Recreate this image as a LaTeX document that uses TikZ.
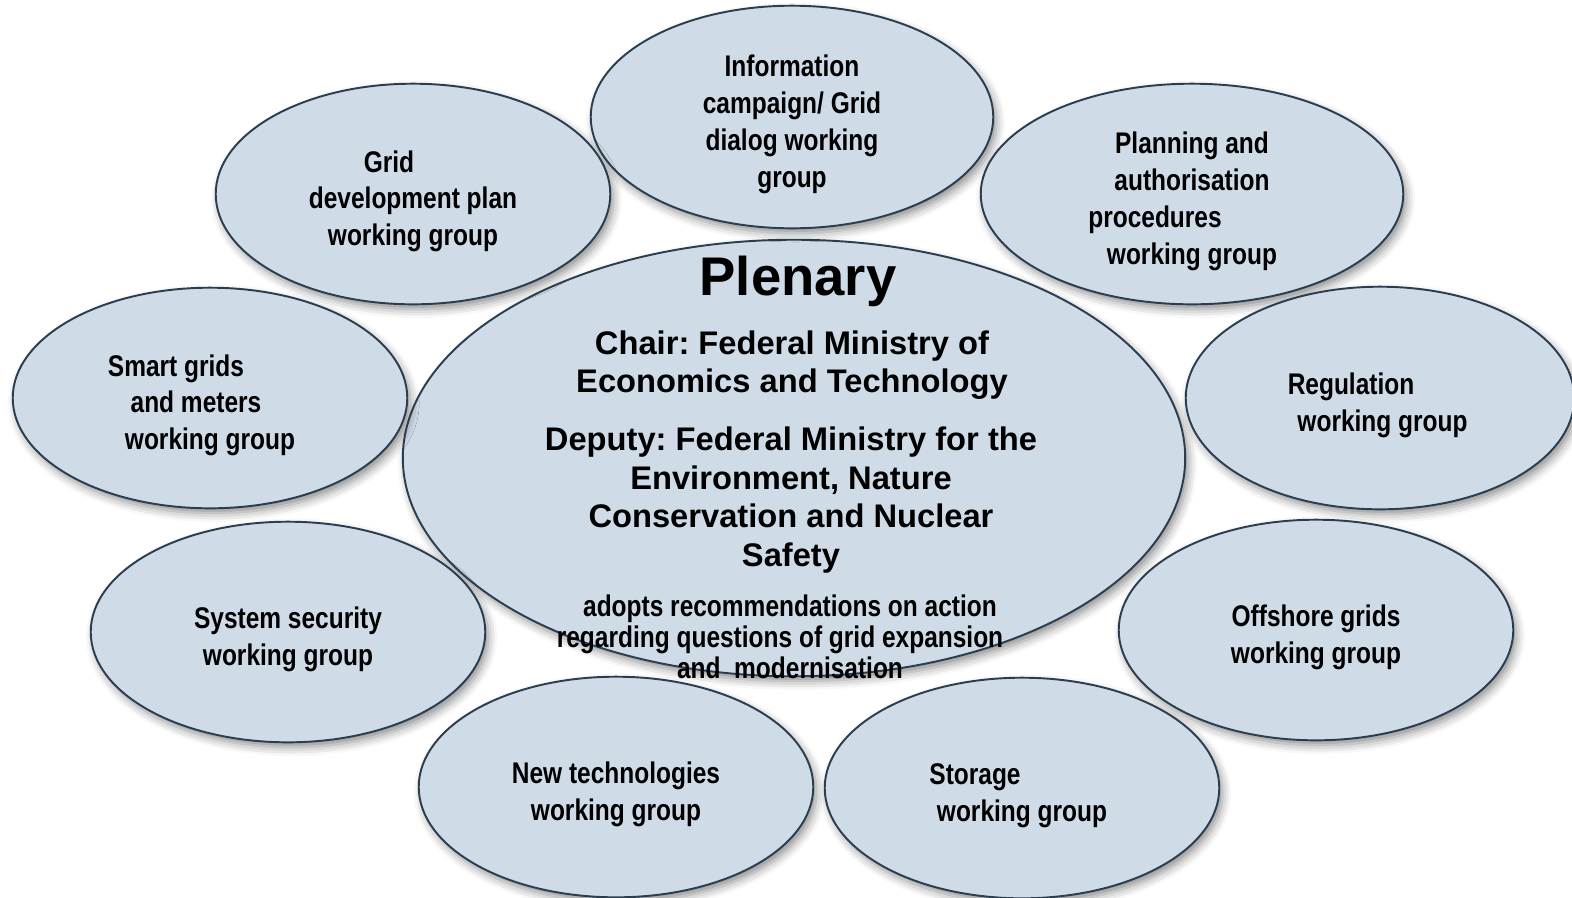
\documentclass[tikz,border=0pt]{standalone}
\usepackage{fontspec}
\setmainfont{Liberation Sans}
\newfontfamily\narrowfont[FakeStretch=0.82]{Liberation Sans}
\usetikzlibrary{shapes.geometric,shadows.blur,calc}

\definecolor{wgfill}{HTML}{CFDCE8}
\definecolor{wgline}{HTML}{2B3E50}
\frenchspacing
% extra head room on the first line drops the block a little
\newcommand\wgstrut{\rule{0pt}{17pt}}

\begin{document}
\begin{tikzpicture}[x=0.02cm,y=-0.02cm,
  radii/.style 2 args={minimum width=#1*0.04cm,minimum height=#2*0.04cm},
  wg/.style={ellipse,inner sep=0pt,fill=wgfill,
    blur shadow={shadow xshift=2pt,shadow yshift=-3pt,shadow blur radius=5pt,shadow opacity=45},
    align=center,font=\narrowfont\bfseries\fontsize{17}{21}\selectfont,
    text depth=0pt},
  rim/.style={draw=wgline,line width=1.1pt},
  plen/.style={align=center,font=\bfseries\fontsize{18.6}{22}\selectfont}]
\useasboundingbox (0,0) rectangle (1572,897);

\node[wg,radii={391}{218}] (plenary) at (794,458) {};
\node[wg,radii={201}{111}] (info) at (792,117) {\wgstrut Information\\campaign/ Grid\\dialog working\\group};
\node[wg,radii={197}{110}] (griddev) at (413,194) {\wgstrut Grid\kern0.96cm\\development plan\\working group};
\node[wg,radii={211}{110}] (planning) at (1192,194) {\wgstrut Planning and\\authorisation\\procedures\kern1.48cm\\working group};
\node[wg,radii={197}{110}] (smart) at (210,398) {\wgstrut Smart grids\kern1.36cm\\and meters\kern0.56cm\\working group};
\node[wg,radii={194}{111}] (regulation) at (1380,398) {\wgstrut Regulation\kern1.16cm\\\kern0.1cm working group};
\node[wg,radii={197}{110}] (security) at (288,632) {\wgstrut System security\\working group};
\node[wg,radii={197}{110}] (offshore) at (1316,630) {\wgstrut Offshore grids\\working group};
\node[wg,radii={197}{110}] (newtech) at (616,787) {\wgstrut New technologies\\working group};
\node[wg,radii={197}{110}] (storage) at (1022,788) {\wgstrut Storage\kern1.88cm\\working group};

% rims go on last, so where two ellipses overlap both edges stay visible
\foreach \g in {plenary,info,griddev,planning,smart,regulation,security,offshore,newtech,storage}
  \draw[rim] let \p1=($(\g.east)-(\g.center)$), \p2=($(\g.north)-(\g.center)$)
    in (\g.center) ellipse [x radius=\x1,y radius=\y2];

% plenary text
\node[font=\bfseries\fontsize{31}{31}\selectfont] (title) at (798,281) {Plenary};
\node[plen] (chair) at (792,365) {Chair: Federal Ministry of\\Economics and Technology};
\node[plen] (deputy) at (791,500) {Deputy: Federal Ministry for the\\Environment, Nature\\Conservation and Nuclear\\Safety};
\node[align=center,font=\narrowfont\bfseries\fontsize{17}{17.5}\selectfont] (remit) at (790,637)
  {adopts recommendations on action\\regarding questions of grid expansion\kern0.4cm\\and~ modernisation};
\end{tikzpicture}
\end{document}
